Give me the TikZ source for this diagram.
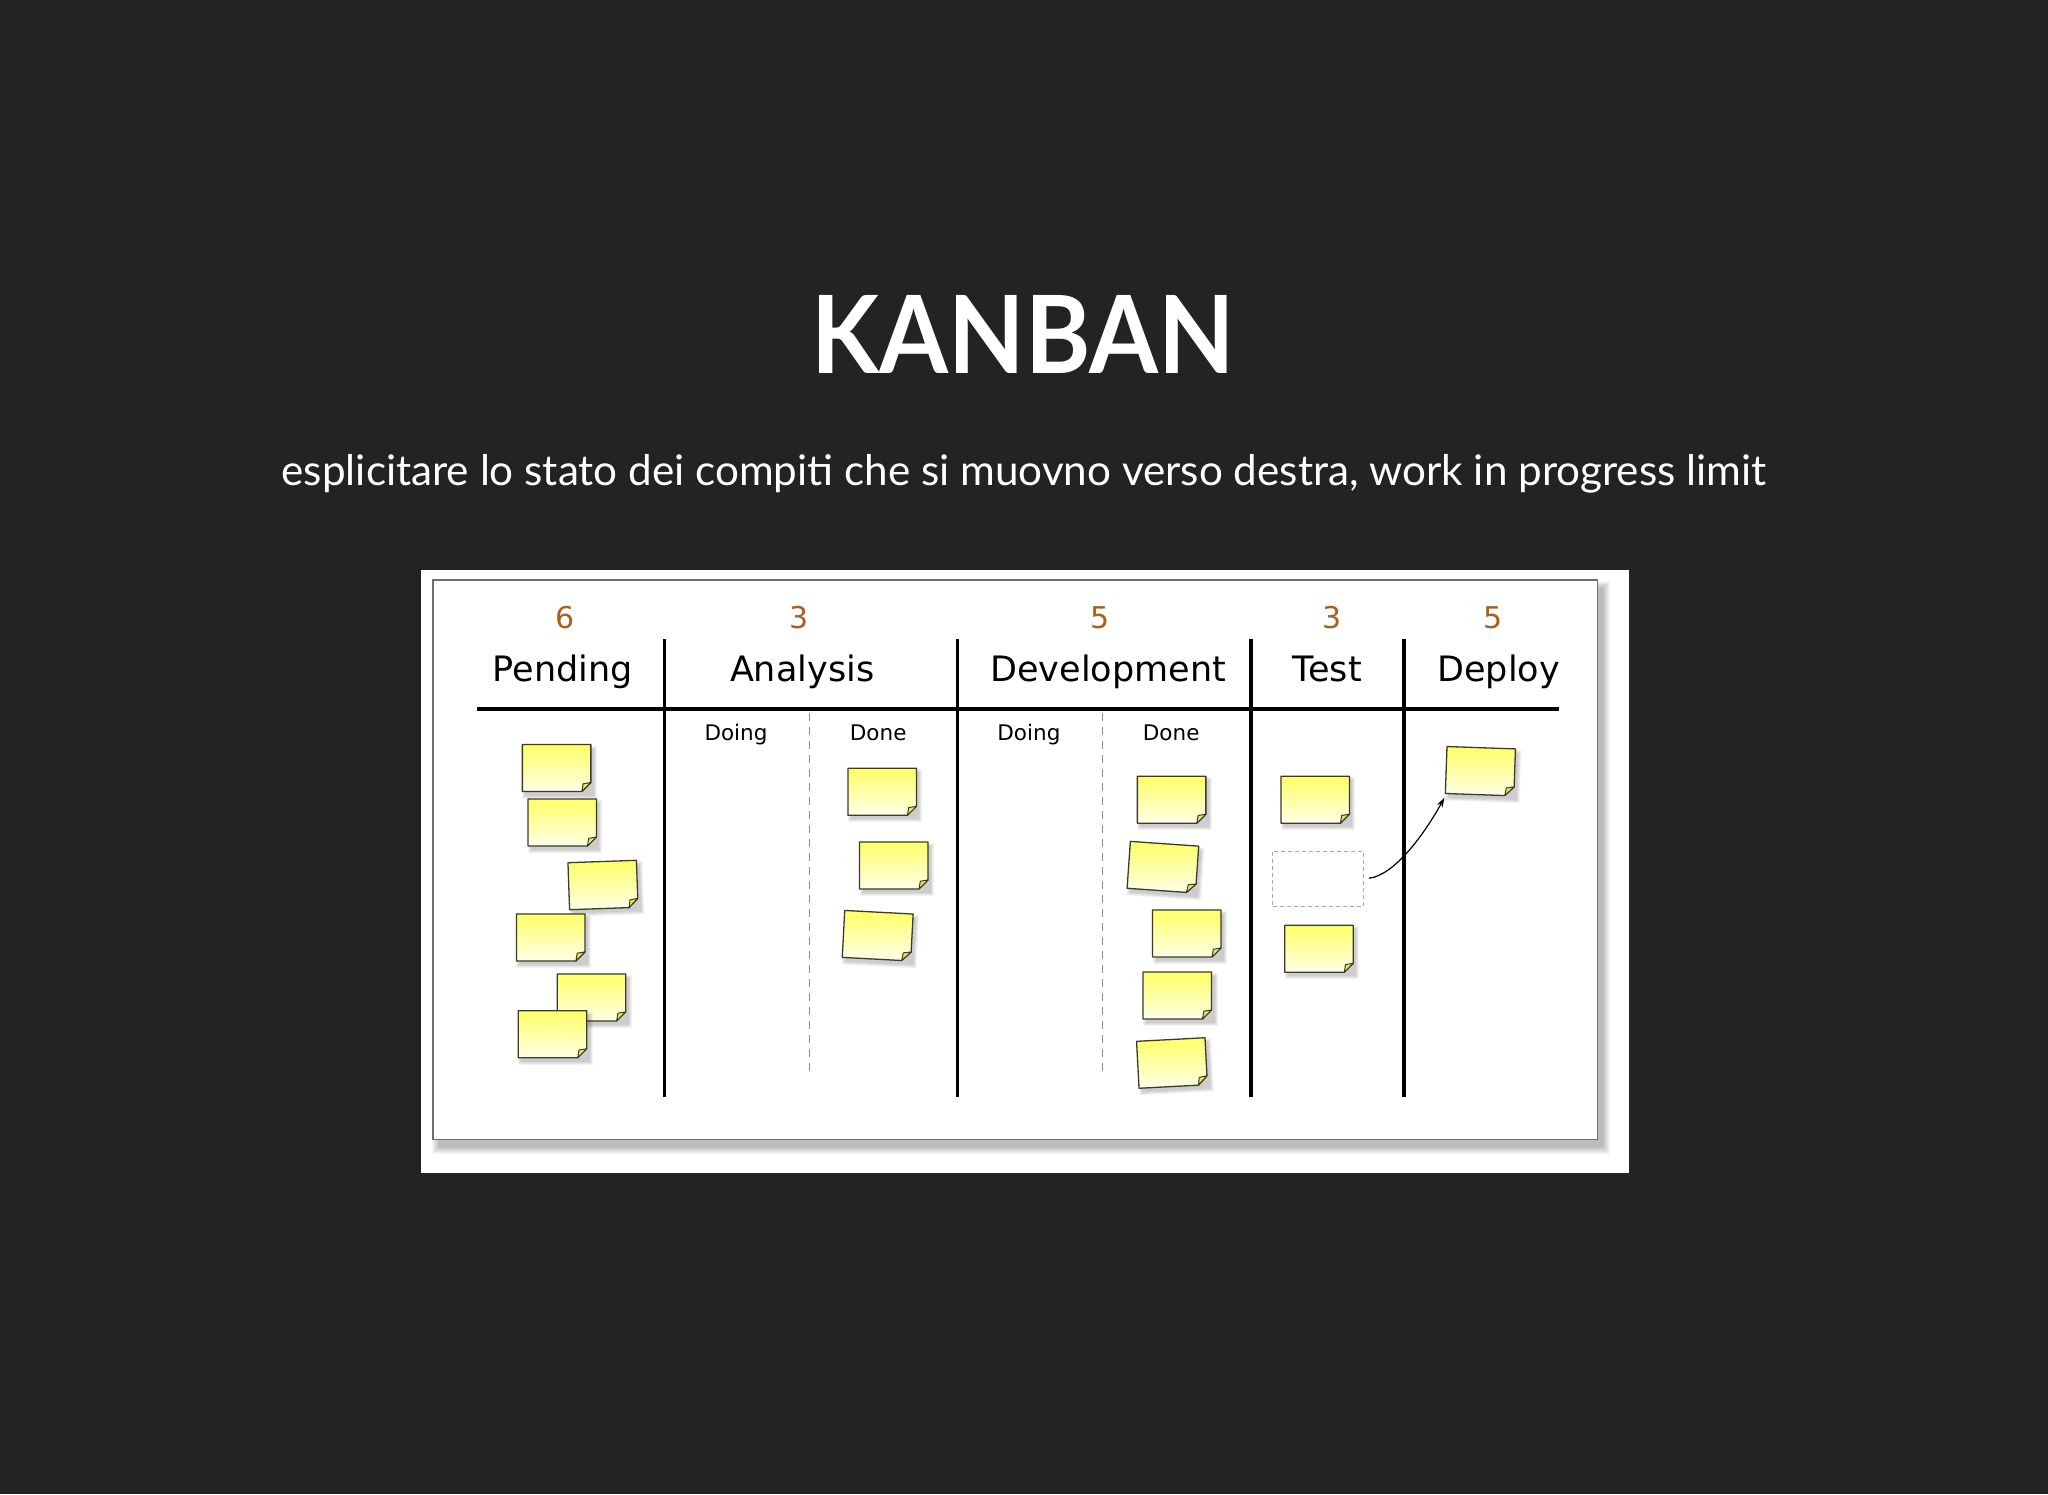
\documentclass[tikz,border=0pt]{standalone}
\usepackage{fontspec}
\setmainfont{Lato}
\newfontfamily\boardfont{DejaVu Sans}
\usetikzlibrary{arrows.meta}
\definecolor{bg}{HTML}{232323}
\definecolor{numcol}{HTML}{A8601E}
\definecolor{noteTop}{HTML}{FFFF66}
\definecolor{noteBot}{HTML}{FFFFE8}
\definecolor{noteEdge}{HTML}{3A3A2E}
\definecolor{foldcol}{HTML}{E6E65A}
\definecolor{frameEdge}{HTML}{6E6E6E}
\definecolor{sepcol}{HTML}{8C8C8C}
\definecolor{phcol}{HTML}{A8A8A8}
\begin{document}
\begin{tikzpicture}[x=1pt,y=-1pt,
  titletext/.style={text=white,font=\fontsize{108}{108}\selectfont\bfseries,anchor=base,inner sep=0},
  subtext/.style={text=white,font=\fontsize{42.2}{42.2}\selectfont,anchor=base,inner sep=0},
  colhead/.style={text=black,font=\boardfont\fontsize{35}{35}\selectfont,anchor=base,inner sep=0},
  wiplimit/.style={text=numcol,font=\boardfont\fontsize{30}{30}\selectfont,anchor=base,inner sep=0},
  subhead/.style={text=black,font=\boardfont\fontsize{21.5}{21.5}\selectfont,anchor=base,inner sep=0},
  boardline/.style={line width=3.5pt,black},
  sepline/.style={line width=1.5pt,sepcol,dash pattern=on 8pt off 6pt},
  placeholder/.style={draw=phcol,line width=1pt,dash pattern=on 4pt off 3pt,minimum width=90.7pt,minimum height=55.3pt,inner sep=0},
  movearrow/.style={line width=1.2pt,black,-{Stealth[length=10pt,width=6pt]},shorten <=5pt,shorten >=3pt},
  note/.pic={
    \foreach \r in {0,1,2,3}{\fill[black,opacity=0.05] (-31.25-\r,-19.5-\r) rectangle (37.25+\r,27.5+\r);}
    \shade[top color=noteTop,bottom color=noteBot] (-34.25,-23.5) -- (34.25,-23.5) -- (34.25,14.5) -- (25.25,23.5) -- (-34.25,23.5) -- cycle;
    \draw[noteEdge,line width=1.3pt,line join=round] (-34.25,-23.5) -- (34.25,-23.5) -- (34.25,14.5) -- (25.25,23.5) -- (-34.25,23.5) -- cycle;
    \filldraw[fill=foldcol,draw=noteEdge,line width=1pt,line join=round] (34.25,14.5) -- (25.25,23.5) -- (26.5,15.8) -- cycle;
    \node[minimum width=68.5pt,minimum height=47pt,inner sep=0] (-c) {};
  }
]
\useasboundingbox (0,0) rectangle (2048,1494);
\fill[bg] (0,0) rectangle (2048,1494);

% title and subtitle
\node[titletext] (title) at (1023,373.5) {\scalebox{0.92}[1]{KANBAN}};
\node[subtext] (subtitle) at (1024,485) {esplicitare lo stato dei compiti che si muovno verso destra, work in progress limit};

% board image
\fill[white] (420.6,569.5) rectangle (1628.7,1172.9);
\foreach \r in {0,...,7}{\fill[black,opacity=0.035] (438.9-\r,588-\r) rectangle (1603.4+\r,1147.3+\r);}
\filldraw[fill=white,draw=frameEdge,line width=1.5pt] (432.9,580) rectangle (1597.4,1139.3);

% grid
\draw[boardline] (477,709) -- (1559.3,709);
\foreach \xx in {664.6,957.5,1251,1404}{\draw[boardline] (\xx,639.3) -- (\xx,1096.7);}
\foreach \xx in {809.3,1102.6}{\draw[sepline] (\xx,713) -- (\xx,1076);}

% WIP limits
\node[wiplimit] (lim1) at (564.6,628.3) {6};
\node[wiplimit] (lim2) at (798.6,628.3) {3};
\node[wiplimit] (lim3) at (1099.6,628.3) {5};
\node[wiplimit] (lim4) at (1331.6,628.3) {3};
\node[wiplimit] (lim5) at (1493.4,628.3) {5};

% column headers
\node[colhead] (hPending) at (562.9,681) {Pending};
\node[colhead] (hAnalysis) at (802.1,681) {Analysis};
\node[colhead] (hDev) at (1108.3,681) {Development};
\node[colhead] (hTest) at (1327.3,681) {Test};
\node[colhead] (hDeploy) at (1498.6,681) {Deploy};

\node[subhead] (aDoing) at (736,740) {Doing};
\node[subhead] (aDone) at (878.2,740) {Done};
\node[subhead] (dDoing) at (1028.9,740) {Doing};
\node[subhead] (dDone) at (1171.2,740) {Done};

% Pending notes
\pic (p1) at (556.6,768) {note};
\pic (p2) at (562.2,822.5) {note};
\pic[rotate=2] (p3) at (603,885) {note};
\pic (p4) at (550.7,937.4) {note};
\pic (p5) at (591.4,997.4) {note};
\pic (p6) at (552.5,1034.2) {note};

% Analysis done
\pic (a1) at (882.2,791.8) {note};
\pic (a2) at (893.8,865.4) {note};
\pic[rotate=-3] (a3) at (877.7,935.7) {note};

% Development done
\pic (d1) at (1171.6,799.7) {note};
\pic[rotate=-4] (d2) at (1162.9,867.2) {note};
\pic (d3) at (1186.8,933.4) {note};
\pic (d4) at (1177.3,995.4) {note};
\pic[rotate=3] (d5) at (1172,1063) {note};

% Test
\pic (t1) at (1315.2,799.7) {note};
\node[placeholder] (ph) at (1318,878.7) {};
\pic (t2) at (1319,948.8) {note};

% Deploy
\pic[rotate=-2] (dep) at (1480.4,771.2) {note};

\draw[movearrow] (ph.east) .. controls +(30,-3) and +(-22,40) .. (dep-c.south west);
\end{tikzpicture}
\end{document}
